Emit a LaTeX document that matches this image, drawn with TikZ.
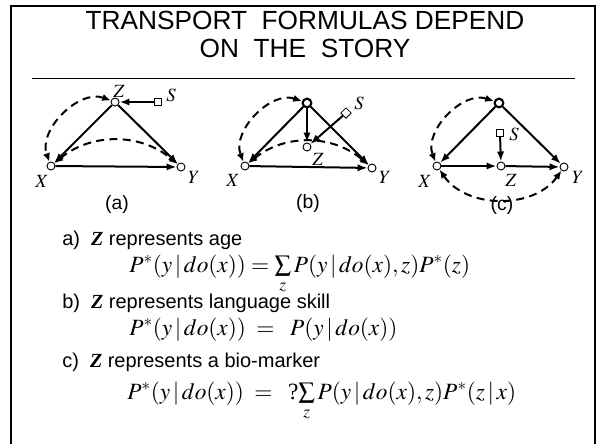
\documentclass[tikz,border=0pt]{standalone}
\usepackage{mathptmx}
\usepackage{fontspec}
\setmainfont{Liberation Sans}
\newfontfamily\serif{Liberation Serif}
\usetikzlibrary{arrows.meta}

\tikzset{
  var/.style={circle,draw,fill=white,inner sep=0pt,minimum size=6pt,line width=0.7pt},
  root/.style={var,line width=1.6pt,minimum size=6.5pt},
  selbox/.style={rectangle,draw,fill=white,inner sep=0pt,minimum size=5.5pt,line width=0.6pt},
  arr/.style={-{Latex[length=7.5pt,width=5.5pt]},line width=1.5pt},
  bi/.style={{Latex[length=6.5pt,width=5.5pt]}-{Latex[length=6.5pt,width=5.5pt]},line width=1.5pt,dash pattern=on 6pt off 4pt},
  vlab/.style={font=\serif\itshape\fontsize{14}{14}\selectfont,inner sep=0pt},
  capt/.style={font=\fontsize{14.5}{16}\selectfont,inner sep=0pt},
  body/.style={anchor=base west,inner sep=0pt,font=\fontsize{15}{17}\selectfont},
  form/.style={anchor=base west,inner sep=0pt,font=\fontsize{17.5}{18}\selectfont}
}
\newcommand{\gv}{\,|\,}

\begin{document}
\begin{tikzpicture}[x=0.75pt,y=0.75pt]
  \useasboundingbox (0,0) rectangle (600,-444);
  % frame and title
  \draw[line width=1.5pt] (11,-444) -- (11,-5.5) -- (595,-5.5) -- (595,-444);
  \node[align=center,inner sep=0pt,font=\fontsize{19.7}{21}\selectfont] (title) at (305,-34)
    {TRANSPORT\ \ FORMULAS\ DEPEND\\ON\ \ THE\ \ STORY};
  \draw[line width=0.75pt] (32,-78) -- (575,-78);

  % (a)
  \node[var] (aZ) at (115,-102) {};
  \node[var] (aX) at (51,-166) {};
  \node[var] (aY) at (181,-167) {};
  \node[selbox] (aS) at (158,-102) {};
  \node[vlab] (aZl) at (119,-91) {$Z$};
  \node[vlab] (aSl) at (171,-95) {$S$};
  \node[vlab] (aXl) at (42,-181) {$X$};
  \node[vlab] (aYl) at (194,-177) {$Y$};
  \node[capt] (acap) at (117,-204) {(a)};
  \draw[arr] (aZ) -- (aX);
  \draw[arr] (aZ) -- (aY);
  \draw[arr] (aX) -- (aY);
  \draw[arr] (aS) -- (aZ);
  \draw[bi] (aZ) to[bend right=65] (aX);
  \draw[bi] (aX) to[bend left=40] (aY);

  % (b)
  \node[root] (bT) at (307,-103) {};
  \node[var] (bX) at (245,-166) {};
  \node[var] (bY) at (372,-168) {};
  \node[var] (bZ) at (307,-147) {};
  \node[selbox,rotate=45] (bS) at (346,-113) {};
  \node[vlab] (bSl) at (359,-103) {$S$};
  \node[vlab] (bZl) at (318,-159) {$Z$};
  \node[vlab] (bXl) at (233,-180) {$X$};
  \node[vlab] (bYl) at (385,-177) {$Y$};
  \node[capt] (bcap) at (308,-203) {(b)};
  \draw[arr] (bT) -- (bX);
  \draw[arr] (bT) -- (bY);
  \draw[arr] (bT) -- (bZ);
  \draw[arr] (bX) -- (bY);
  \draw[arr] (bS) -- (bZ);
  \draw[bi] (bT) to[bend right=65] (bX);
  \draw[bi] (bX) to[bend left=40] (bY);

  % (c)
  \node[root] (cT) at (499,-103) {};
  \node[var] (cX) at (437,-166) {};
  \node[var] (cZ) at (501,-166) {};
  \node[var] (cY) at (564,-167) {};
  \node[selbox] (cS) at (500,-133) {};
  \node[vlab] (cSl) at (514,-134) {$S$};
  \node[vlab] (cXl) at (425,-181) {$X$};
  \node[vlab] (cZl) at (511,-180) {$Z$};
  \node[vlab] (cYl) at (578,-177) {$Y$};
  \node[capt] (ccap) at (502,-205) {(c)};
  \draw[arr] (cT) -- (cX);
  \draw[arr] (cT) -- (cY);
  \draw[arr] (cX) -- (cZ);
  \draw[arr] (cZ) -- (cY);
  \draw[arr] (cS) -- (cZ);
  \draw[bi] (cT) to[bend right=65] (cX);
  \draw[bi] (cX) to[bend right=55] (cY);

  % stories and formulas
  \node[body] (ta) at (62,-245) {a)\ \ {\serif\bfseries\itshape Z} represents age};
  \node[form] (fa) at (129,-272)
    {$P^{*}(y\gv do(x))=\sum\limits_{z}P(y\gv do(x),z)P^{*}(z)$};
  \node[body] (tb) at (62,-308) {b)\ \ {\serif\bfseries\itshape Z} represents language skill};
  \node[form] (fb) at (129,-335)
    {$P^{*}(y\gv do(x))\;=\;\;P(y\gv do(x))$};
  \node[body] (tc) at (62,-367) {c)\ \ {\serif\bfseries\itshape Z} represents a bio-marker};
  \node[form] (fc) at (127,-399)
    {$P^{*}(y\gv do(x))\;=\;\;\hbox{\serif ?}\mkern-2mu\sum\limits_{z}P(y\gv do(x),z)P^{*}(z\gv x)$};
\end{tikzpicture}
\end{document}
